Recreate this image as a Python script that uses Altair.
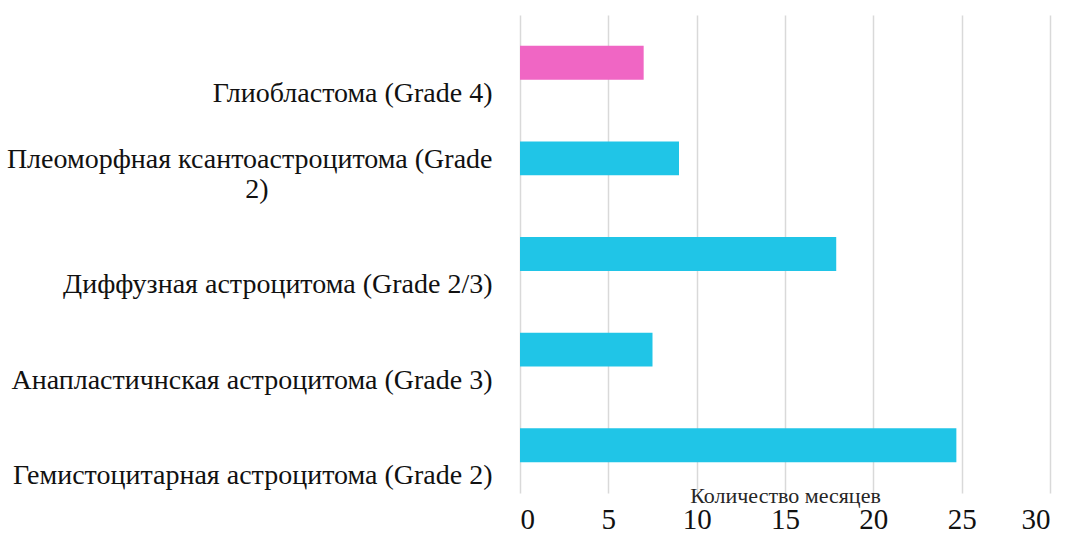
import altair as alt
import pandas as pd

categories = [
    "Глиобластома (Grade 4)",
    "Плеоморфная ксантоастроцитома (Grade 2)",
    "Диффузная астроцитома (Grade 2/3)",
    "Анапластичнская астроцитома (Grade 3)",
    "Гемистоцитарная астроцитома (Grade 2)",
]
months = [7.0, 9.0, 17.9, 7.5, 24.7]
groups = ["Grade 4", "other", "other", "other", "other"]
x_ticks = [0, 5, 10, 15, 20, 25, 30]

df = pd.DataFrame({"category": categories, "months": months, "group": groups})

FONT = "Liberation Serif"
long_label = categories[1]
pad = "\u2003" * 8 + "\u2060"
label_expr = (
    f"datum.value == '{long_label}' ? "
    f"['Плеоморфная ксантоастроцитома (Grade', '2){pad}'] : datum.value"
)

chart = (
    alt.Chart(df)
    .mark_bar()
    .encode(
        x=alt.X(
            "months:Q",
            scale=alt.Scale(domain=[0, 30], nice=False),
            axis=alt.Axis(
                values=x_ticks,
                title="Количество месяцев",
                titleFont=FONT,
                titleFontSize=22,
                titleFontWeight="normal",
                titleColor="#262626",
                titleBaseline="alphabetic",
                titleY=9,
                labelFont=FONT,
                labelFontSize=29,
                labelColor="#111111",
                labelPadding=12,
                domain=False,
                ticks=False,
                grid=True,
                gridColor="#d9d9d9",
                gridWidth=1.5,
            ),
        ),
        y=alt.Y(
            "category:N",
            sort=categories,
            scale=alt.Scale(paddingInner=0.645, paddingOuter=0.3225),
            axis=alt.Axis(
                title=None,
                labelFont=FONT,
                labelFontSize=28,
                labelColor="#111111",
                labelAlign="right",
                labelBaseline="middle",
                labelPadding=28,
                labelLimit=1000,
                labelLineHeight=30,
                labelOffset={
                    "condition": {"test": f"datum.value == '{long_label}'", "value": 2},
                    "value": 31,
                },
                labelExpr=label_expr,
                domain=False,
                ticks=False,
                grid=False,
            ),
        ),
        color=alt.Color(
            "group:N",
            scale=alt.Scale(domain=["Grade 4", "other"], range=["#f066c4", "#20c5e7"]),
            legend=None,
        ),
    )
    .properties(
        width=530,
        height=478,
        autosize=alt.AutoSizeParams(type="none"),
        padding={"left": 520, "top": 15, "right": 17, "bottom": 41},
        background="white",
    )
    .configure_view(strokeWidth=0)
)

chart.save("out.html", embed_options={"renderer": "svg", "actions": False})
